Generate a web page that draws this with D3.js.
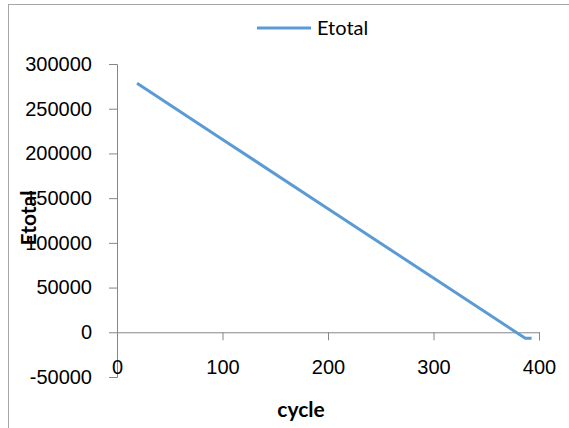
<!DOCTYPE html><html><head><meta charset="UTF-8"><title>Etotal vs cycle</title><script src="https://d3js.org/d3.v7.min.js"></script><style>
        body { margin: 0; background: #fff; }
        svg { display: block; font-family: Lato, "Open Sans", sans-serif; }
        .tick text { font-size: 20px; fill: #000; }
        .axis path, .axis line { stroke: #868686; stroke-width: 1px; }
    </style></head><body><svg id="chart"></svg><script>
        // values
        const cycles = [19, 100, 200, 300, 387, 393];
        const etotal = [278500, 215700, 138200, 60700, -6700, -6700];
        const xTicks = [0, 100, 200, 300, 400];
        const yTicks = [-50000, 0, 50000, 100000, 150000, 200000, 250000, 300000];

        const width = 569, height = 428;
        const svg = d3.select("#chart").attr("width", width).attr("height", height);

        // chart area border (only top/left visible)
        svg.append("rect")
            .attr("x", 8.5).attr("y", 4.5)
            .attr("width", 600).attr("height", 500)
            .attr("fill", "none").attr("stroke", "#a6a6a6");

        const x = d3.scaleLinear().domain([0, 400]).range([117, 539]);
        const y = d3.scaleLinear().domain([-50000, 300000]).range([377, 64]);

        // axis titles (drawn first, tick labels sit over them)
        svg.append("text")
            .attr("x", 301).attr("y", 417)
            .attr("text-anchor", "middle")
            .style("font-size", "21px").style("font-weight", "bold")
            .text("cycle");

        svg.append("text")
            .attr("transform", "translate(36,218) rotate(-90)")
            .attr("text-anchor", "middle")
            .style("font-size", "21px").style("font-weight", "bold")
            .text("Etotal");

        // y axis
        svg.append("g")
            .attr("class", "axis")
            .attr("transform", `translate(${x(0)},0)`)
            .call(d3.axisLeft(y).tickValues(yTicks).tickSize(8).tickPadding(17).tickFormat(d => String(d)));

        // x axis at y = 0
        const xAxis = svg.append("g")
            .attr("class", "axis")
            .attr("transform", `translate(0,${y(0)})`)
            .call(d3.axisBottom(x).tickValues(xTicks).tickSize(8).tickSizeOuter(8).tickPadding(0));
        xAxis.selectAll(".tick text").attr("y", 0).attr("dy", "42px");

        // line
        const pts = cycles.map((c, i) => [c, etotal[i]]);
        svg.append("path")
            .datum(pts)
            .attr("fill", "none")
            .attr("stroke", "#5b9bd5")
            .attr("stroke-width", 3)
            .attr("d", d3.line().x(d => x(d[0])).y(d => y(d[1])));

        // legend
        svg.append("line")
            .attr("x1", 257).attr("x2", 311).attr("y1", 28).attr("y2", 28)
            .attr("stroke", "#5b9bd5").attr("stroke-width", 3);
        svg.append("text")
            .attr("x", 317).attr("y", 35)
            .style("font-size", "20px")
            .text("Etotal");
    </script></body></html>
